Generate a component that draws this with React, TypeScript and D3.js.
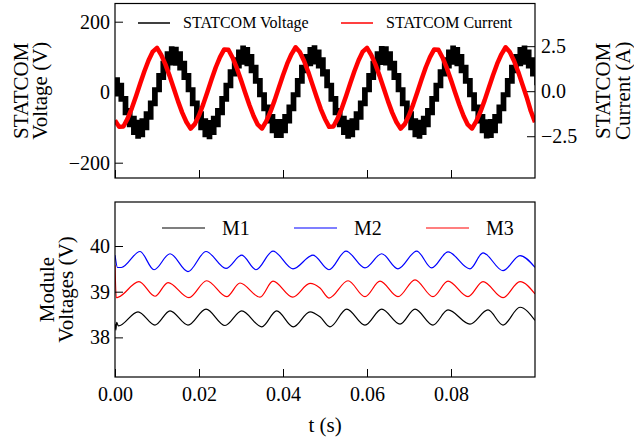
import React, { useEffect, useRef } from 'react';
import * as d3 from 'd3';

const WIDTH = 634;
const HEIGHT = 443;
const FONT = "'Liberation Serif', 'Times New Roman', serif";

// top panel: samples every 1 ms
const sampleTimesMs = d3.range(0, 101);

// STATCOM output voltage: upper / lower edge of the switching band (V)
const voltageUpper = [
  40, 25, -13, -47, -69, -80, -76, -56, -26, 12,
  52, 87, 114, 128, 127, 114, 87, 52, 12, -26,
  -56, -76, -81, -69, -47, -13, 25, 63, 97, 119,
  130, 126, 106, 76, 38, -2, -37, -64, -78, -78,
  -64, -37, -2, 38, 76, 106, 126, 131, 119, 97,
  63, 25, -13, -47, -69, -80, -76, -56, -26, 12,
  52, 87, 114, 129, 128, 114, 87, 52, 12, -26,
  -56, -76, -80, -69, -47, -13, 25, 63, 97, 119,
  130, 126, 106, 76, 38, -2, -37, -64, -79, -78,
  -64, -37, -2, 38, 76, 106, 126, 130, 119, 97,
  70,
];
const voltageLower = [
  -10, -25, -63, -97, -119, -130, -126, -106, -76, -38,
  2, 37, 64, 78, 77, 64, 37, 2, -38, -76,
  -106, -126, -131, -119, -97, -63, -25, 13, 47, 69,
  80, 76, 56, 26, -12, -52, -87, -114, -128, -128,
  -114, -87, -52, -12, 26, 56, 76, 81, 69, 47,
  13, -25, -63, -97, -119, -130, -126, -106, -76, -38,
  2, 37, 64, 79, 78, 64, 37, 2, -38, -76,
  -106, -126, -130, -119, -97, -63, -25, 13, 47, 69,
  80, 76, 56, 26, -12, -52, -87, -114, -129, -128,
  -114, -87, -52, -12, 26, 56, 76, 80, 69, 47,
  20,
];

const statcomCurrent = [
  -1.62, -1.98, -1.96, -1.52, -0.95, -0.28, 0.43, 1.11, 1.72, 2.2,
  2.41, 2.02, 1.49, 0.85, 0.15, -0.55, -1.19, -1.71, -2.08, -1.83,
  -1.34, -0.73, -0.04, 0.66, 1.33, 1.89, 2.32, 2.3, 1.86, 1.29,
  0.62, -0.09, -0.77, -1.38, -1.86, -2.07, -1.68, -1.15, -0.51, 0.19,
  0.89, 1.53, 2.05, 2.44, 2.18, 1.69, 1.08, 0.38, -0.32, -0.99,
  -1.54, -1.98, -1.96, -1.52, -0.95, -0.28, 0.43, 1.11, 1.72, 2.2,
  2.41, 2.02, 1.49, 0.85, 0.15, -0.55, -1.19, -1.71, -2.08, -1.83,
  -1.34, -0.73, -0.04, 0.66, 1.33, 1.89, 2.32, 2.3, 1.86, 1.29,
  0.62, -0.09, -0.77, -1.38, -1.86, -2.07, -1.68, -1.15, -0.51, 0.19,
  0.89, 1.53, 2.05, 2.44, 2.18, 1.69, 1.08, 0.38, -0.32, -1.1,
  -1.72,
];

// bottom panel: module capacitor voltages (ms, V)
const m1Times = [0, 0.2, 0.4, 0.8, 5.48, 9.52, 13.1, 17.38, 21.67, 26.19, 30.17, 34.93, 38.5, 42.45, 46.43, 48.81, 51.19, 55.17, 59.52, 63.5, 67.86, 71.43, 75.71, 79.29, 84.52, 88.81, 92.38, 96.43, 100];
const m1Values = [38.3, 38.16, 38.33, 38.25, 38.56, 38.27, 38.58, 38.27, 38.62, 38.26, 38.58, 38.23, 38.58, 38.23, 38.56, 38.45, 38.23, 38.62, 38.27, 38.62, 38.29, 38.62, 38.27, 38.6, 38.29, 38.6, 38.27, 38.66, 38.37];

const m2Times = [0, 0.6, 1.5, 5.95, 9.29, 13.1, 17.38, 21.67, 26.43, 30.17, 33.57, 37.62, 42.38, 47.14, 50.95, 55.0, 59.52, 63.5, 67.38, 71.83, 75.4, 79.29, 84.52, 87.62, 92.38, 96.43, 100];
const m2Values = [39.8, 39.53, 39.53, 39.88, 39.48, 39.83, 39.44, 39.88, 39.51, 39.8, 39.48, 39.89, 39.5, 39.8, 39.48, 39.89, 39.52, 39.83, 39.5, 39.89, 39.52, 39.87, 39.5, 39.85, 39.46, 39.79, 39.53];

const m3Times = [0, 0.3, 0.8, 5.71, 9.52, 12.62, 17.62, 21.83, 26.6, 29.76, 34.52, 37.62, 42.31, 46.43, 48.81, 50.95, 55.48, 59.52, 63.1, 67.38, 71.43, 75.71, 79.29, 84.05, 87.62, 92.38, 96.43, 100];
const m3Values = [39.58, 38.87, 38.88, 39.22, 38.9, 39.2, 38.87, 39.24, 38.89, 39.19, 38.88, 39.23, 38.88, 39.18, 39.08, 38.86, 39.24, 38.89, 39.23, 38.89, 39.26, 38.89, 39.23, 38.89, 39.22, 38.87, 39.22, 38.95];

const xTicks = [0, 0.02, 0.04, 0.06, 0.08];
const voltageTicks = [-200, 0, 200];
const currentTicks = [-2.5, 0, 2.5];
const moduleTicks = [38, 39, 40];

const moduleSeries = [
  { name: 'M1', times: m1Times, values: m1Values, color: '#000000' },
  { name: 'M2', times: m2Times, values: m2Values, color: '#0000ff' },
  { name: 'M3', times: m3Times, values: m3Values, color: '#ff0000' },
];

export default function App() {
  const svgRef = useRef<SVGSVGElement>(null);

  useEffect(() => {
    const svg = d3.select(svgRef.current);
    svg.selectAll('*').remove();

    const left = 115, right = 535;
    const top1 = 3.5, bottom1 = 178;
    const top2 = 202, bottom2 = 377;

    const x = d3.scaleLinear().domain([0, 0.1]).range([left, right]);
    const yV = d3.scaleLinear().domain([-243.4, 251.6]).range([bottom1, top1]);
    const yI = d3.scaleLinear().domain([-4.82, 4.87]).range([bottom1, top1]);
    const yM = d3.scaleLinear().domain([37.133, 40.963]).range([bottom2, top2]);

    const defs = svg.append('defs');
    defs.append('clipPath').attr('id', 'clip-top')
      .append('rect').attr('x', left).attr('y', top1).attr('width', right - left).attr('height', bottom1 - top1);
    defs.append('clipPath').attr('id', 'clip-bottom')
      .append('rect').attr('x', left).attr('y', top2).attr('width', right - left).attr('height', bottom2 - top2);

    const styleAxis = (g: any, size = 20) => {
      g.select('.domain').remove();
      g.selectAll('line').attr('stroke', '#000').attr('stroke-width', 1);
      g.selectAll('text').attr('font-family', FONT).attr('font-size', size).attr('fill', '#000');
    };

    // ---- top panel ----
    const topPlot = svg.append('g').attr('clip-path', 'url(#clip-top)');

    // voltage drawn as the band the switching covers
    const voltageBand = d3.area<number>()
      .x((_, i) => x(sampleTimesMs[i] / 1000))
      .y0((_, i) => yV(voltageLower[i]))
      .y1(d => yV(d))
      .curve(d3.curveStepAfter);
    topPlot.append('path')
      .attr('d', voltageBand(voltageUpper))
      .attr('fill', '#000').attr('stroke', '#000').attr('stroke-width', 1.5);

    const currentLine = d3.line<number>()
      .x((_, i) => x(sampleTimesMs[i] / 1000))
      .y(d => yI(d));
    topPlot.append('path')
      .attr('d', currentLine(statcomCurrent))
      .attr('fill', 'none').attr('stroke', '#ff0000').attr('stroke-width', 4.5)
      .attr('stroke-linejoin', 'round');

    styleAxis(svg.append('g').attr('transform', `translate(0,${bottom1})`)
      .call(d3.axisBottom(x).tickValues(xTicks).tickSize(-8).tickSizeOuter(0).tickFormat(() => '')));
    styleAxis(svg.append('g').attr('transform', `translate(${left},0)`)
      .call(d3.axisLeft(yV).tickValues(voltageTicks).tickSize(-8).tickSizeOuter(0).tickPadding(5)
        .tickFormat(d3.format('d'))));
    styleAxis(svg.append('g').attr('transform', `translate(${right},0)`)
      .call(d3.axisRight(yI).tickValues(currentTicks).tickSize(-8).tickSizeOuter(0).tickPadding(6)
        .tickFormat(d3.format('.1f'))));

    svg.append('rect').attr('x', left).attr('y', top1).attr('width', right - left).attr('height', bottom1 - top1)
      .attr('fill', 'none').attr('stroke', '#000').attr('stroke-width', 1.2);

    // top legend
    const topLegend = [
      { label: 'STATCOM Voltage', color: '#000', x0: 138 },
      { label: 'STATCOM Current', color: '#ff0000', x0: 341 },
    ];
    topLegend.forEach(item => {
      svg.append('line').attr('x1', item.x0).attr('x2', item.x0 + 32).attr('y1', 23).attr('y2', 23)
        .attr('stroke', item.color).attr('stroke-width', 1.5);
      svg.append('text').attr('x', item.x0 + 45).attr('y', 28)
        .attr('font-family', FONT).attr('font-size', 16).text(item.label);
    });

    // ---- bottom panel ----
    const bottomPlot = svg.append('g').attr('clip-path', 'url(#clip-bottom)');
    moduleSeries.forEach(s => {
      const line = d3.line<number>()
        .x((_, i) => x(s.times[i] / 1000))
        .y(d => yM(d))
        .curve(d3.curveMonotoneX);
      bottomPlot.append('path')
        .attr('d', line(s.values))
        .attr('fill', 'none').attr('stroke', s.color).attr('stroke-width', 1.2);
    });

    styleAxis(svg.append('g').attr('transform', `translate(0,${bottom2})`)
      .call(d3.axisBottom(x).tickValues(xTicks).tickSize(-8).tickSizeOuter(0).tickPadding(10)
        .tickFormat(d3.format('.2f'))));
    styleAxis(svg.append('g').attr('transform', `translate(${left},0)`)
      .call(d3.axisLeft(yM).tickValues(moduleTicks).tickSize(-8).tickSizeOuter(0).tickPadding(5)
        .tickFormat(d3.format('d'))));

    svg.append('rect').attr('x', left).attr('y', top2).attr('width', right - left).attr('height', bottom2 - top2)
      .attr('fill', 'none').attr('stroke', '#000').attr('stroke-width', 1.2);

    // bottom legend
    const legendX = [162, 294, 426];
    moduleSeries.forEach((s, i) => {
      svg.append('line').attr('x1', legendX[i]).attr('x2', legendX[i] + 43).attr('y1', 228).attr('y2', 228)
        .attr('stroke', s.color).attr('stroke-width', 1.2);
      svg.append('text').attr('x', legendX[i] + 60).attr('y', 235)
        .attr('font-family', FONT).attr('font-size', 20).text(s.name);
    });

    // axis titles
    const rotated = (text: string, bx: number, cy: number) => {
      svg.append('text')
        .attr('transform', `translate(${bx},${cy}) rotate(-90)`)
        .attr('text-anchor', 'middle')
        .attr('font-family', FONT).attr('font-size', 21)
        .text(text);
    };
    const cy1 = (top1 + bottom1) / 2;
    const cy2 = (top2 + bottom2) / 2;
    rotated('STATCOM', 28, cy1);
    rotated('Voltage (V)', 47, cy1);
    rotated('Module', 54, cy2);
    rotated('Voltages (V)', 73, cy2);
    rotated('STATCOM', 610, cy1);
    rotated('Current (A)', 630, cy1);

    svg.append('text').attr('x', (left + right) / 2).attr('y', 432)
      .attr('text-anchor', 'middle').attr('font-family', FONT).attr('font-size', 21)
      .text('t (s)');
  }, []);

  return (
    <svg
      ref={svgRef}
      width={WIDTH}
      height={HEIGHT}
      style={{ position: 'absolute', left: 0, top: 0, background: '#fff' }}
    />
  );
}
